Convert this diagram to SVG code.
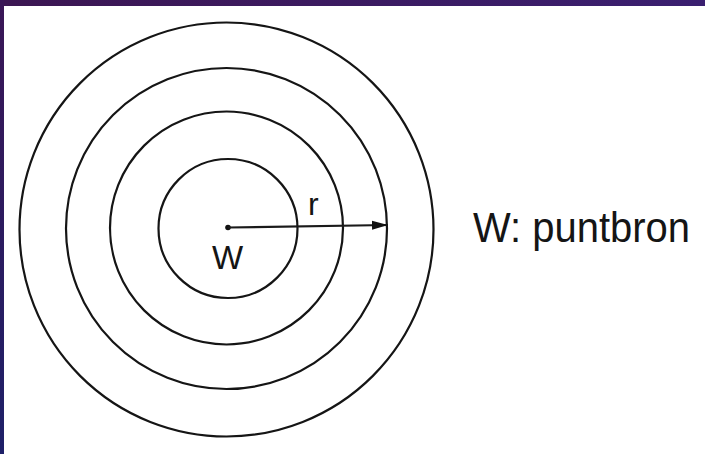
<svg xmlns="http://www.w3.org/2000/svg" width="705" height="454" viewBox="0 0 705 454">
  <defs>
    <linearGradient id="topband" x1="0" y1="0" x2="1" y2="0">
      <stop offset="0" stop-color="#3c1652"/>
      <stop offset="1" stop-color="#3a1f70"/>
    </linearGradient>
    <linearGradient id="leftband" x1="0" y1="0" x2="0" y2="1">
      <stop offset="0" stop-color="#3a1656"/>
      <stop offset="1" stop-color="#1e2068"/>
    </linearGradient>
    <marker id="arrow" viewBox="0 0 16 10" refX="16" refY="5" markerWidth="16" markerHeight="10" markerUnits="userSpaceOnUse" orient="auto">
      <path d="M0,0.5 L16,5 L0,9.5 Z" fill="#111"/>
    </marker>
  </defs>
  <style>
    .ring { fill: none; stroke: #151515; stroke-width: 2.2; }
    .lbl { font-family: "Liberation Sans", Arial, sans-serif; fill: #151515; }
    .conn { stroke: #1a1a1a; stroke-width: 2.2; fill: none; }
  </style>
  <rect x="0" y="0" width="705" height="454" fill="#ffffff"/>
  <rect x="0" y="0" width="705" height="6" fill="url(#topband)"/>
  <rect x="0" y="0" width="4" height="454" fill="url(#leftband)"/>

  <g id="ring4"><circle class="ring" cx="226.5" cy="229.5" r="207"/></g>
  <g id="ring3"><circle class="ring" cx="226.5" cy="228.5" r="160.5"/></g>
  <g id="ring2"><circle class="ring" cx="226.5" cy="228" r="116.5"/></g>
  <g id="ring1"><circle class="ring" cx="228" cy="228.5" r="69.5"/></g>

  <g id="source">
    <circle cx="228" cy="227.5" r="2.8" fill="#111"/>
    <text class="lbl" x="212" y="269" font-size="33">W</text>
  </g>

  <g id="connectors">
    <path class="conn" d="M228,227.5 L388,225" marker-end="url(#arrow)"/>
    <text class="lbl" x="308" y="215" font-size="32">r</text>
  </g>

  <g id="legend">
    <text class="lbl" x="473" y="242" font-size="43" textLength="217" lengthAdjust="spacingAndGlyphs">W: puntbron</text>
  </g>
</svg>
